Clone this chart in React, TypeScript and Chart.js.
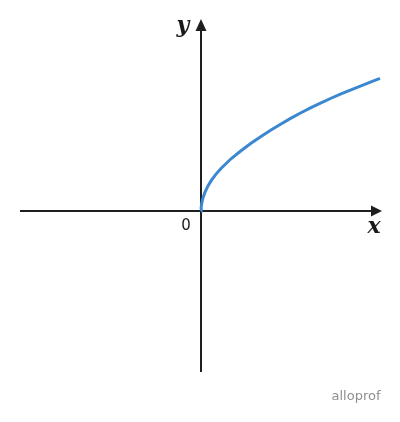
import React, { useEffect, useRef } from "react";
import { Chart, registerables } from "chart.js";

Chart.register(...registerables);

// Points (x, y in axis units)
const curveX = [0, 0.01, 0.05, 0.1, 0.2, 0.35, 0.5, 0.75, 1, 1.5, 2, 2.5, 3, 3.5, 4, 4.5, 5, 5.5, 6, 6.5, 7, 7.5, 8, 8.5, 8.95];
const curveY = [0, 0.2, 0.46, 0.66, 0.94, 1.25, 1.5, 1.84, 2.12, 2.6, 3.0, 3.37, 3.71, 4.03, 4.33, 4.62, 4.89, 5.14, 5.38, 5.61, 5.83, 6.03, 6.23, 6.42, 6.6];

const xRange = [-9, 9];
const yRange = [-8, 9.5];
const originLabel = "0";
const xAxisLabel = "x";
const yAxisLabel = "y";
const watermark = "alloprof";

const axisPlugin = {
  id: "mathAxes",
  beforeDatasetsDraw(chart: any) {
    const { ctx, chartArea, scales } = chart;
    const ox = scales.x.getPixelForValue(0);
    const oy = scales.y.getPixelForValue(0);
    ctx.save();
    ctx.strokeStyle = "#1f1f1f";
    ctx.fillStyle = "#1f1f1f";
    ctx.lineWidth = 2;
    ctx.beginPath();
    ctx.moveTo(chartArea.left - 1, oy);
    ctx.lineTo(chartArea.right - 8, oy);
    ctx.stroke();
    ctx.beginPath();
    ctx.moveTo(chartArea.right + 1, oy);
    ctx.lineTo(chartArea.right - 10, oy - 5.5);
    ctx.lineTo(chartArea.right - 10, oy + 5.5);
    ctx.closePath();
    ctx.fill();
    ctx.beginPath();
    ctx.moveTo(ox, chartArea.bottom);
    ctx.lineTo(ox, chartArea.top + 8);
    ctx.stroke();
    ctx.beginPath();
    ctx.moveTo(ox, chartArea.top - 1);
    ctx.lineTo(ox - 5.5, chartArea.top + 11);
    ctx.lineTo(ox + 5.5, chartArea.top + 11);
    ctx.closePath();
    ctx.fill();
    ctx.restore();
  },
  afterDraw(chart: any) {
    const { ctx, chartArea, scales } = chart;
    const ox = scales.x.getPixelForValue(0);
    const oy = scales.y.getPixelForValue(0);
    ctx.save();
    ctx.fillStyle = "#1a1a1a";
    ctx.textAlign = "center";
    ctx.textBaseline = "middle";
    ctx.font = "15px 'DejaVu Sans', sans-serif";
    ctx.fillText(originLabel, ox - 15, oy + 15);
    ctx.font = "italic 600 22px 'DejaVu Serif', serif";
    ctx.fillText(xAxisLabel, chartArea.right - 7, oy + 16);
    ctx.fillText(yAxisLabel, ox - 18, chartArea.top + 6);
    ctx.fillStyle = "#8f8f8f";
    ctx.font = "13px 'DejaVu Sans', sans-serif";
    ctx.fillText(watermark, 356, 397);
    ctx.restore();
  },
};

export default function App() {
  const ref = useRef<HTMLCanvasElement>(null);
  useEffect(() => {
    document.body.style.margin = "0";
    const chart = new Chart(ref.current!, {
      type: "scatter",
      data: {
        datasets: [
          {
            data: curveX.map((x, i) => ({ x, y: curveY[i] })),
            showLine: true,
            borderColor: "#3b88d1",
            borderWidth: 3,
            pointRadius: 0,
            tension: 0,
            fill: false,
          },
        ],
      },
      options: {
        responsive: false,
        animation: false,
        layout: { padding: { left: 21, right: 19, top: 20, bottom: 50 } },
        plugins: { legend: { display: false }, tooltip: { enabled: false } },
        scales: {
          x: { type: "linear", min: xRange[0], max: xRange[1], display: false },
          y: { type: "linear", min: yRange[0], max: yRange[1], display: false },
        },
      },
      plugins: [axisPlugin],
    });
    return () => chart.destroy();
  }, []);
  return (
    <div style={{ position: "fixed", left: 0, top: 0, width: 400, height: 422, background: "#fff" }}>
      <canvas ref={ref} width={400} height={422} />
    </div>
  );
}
